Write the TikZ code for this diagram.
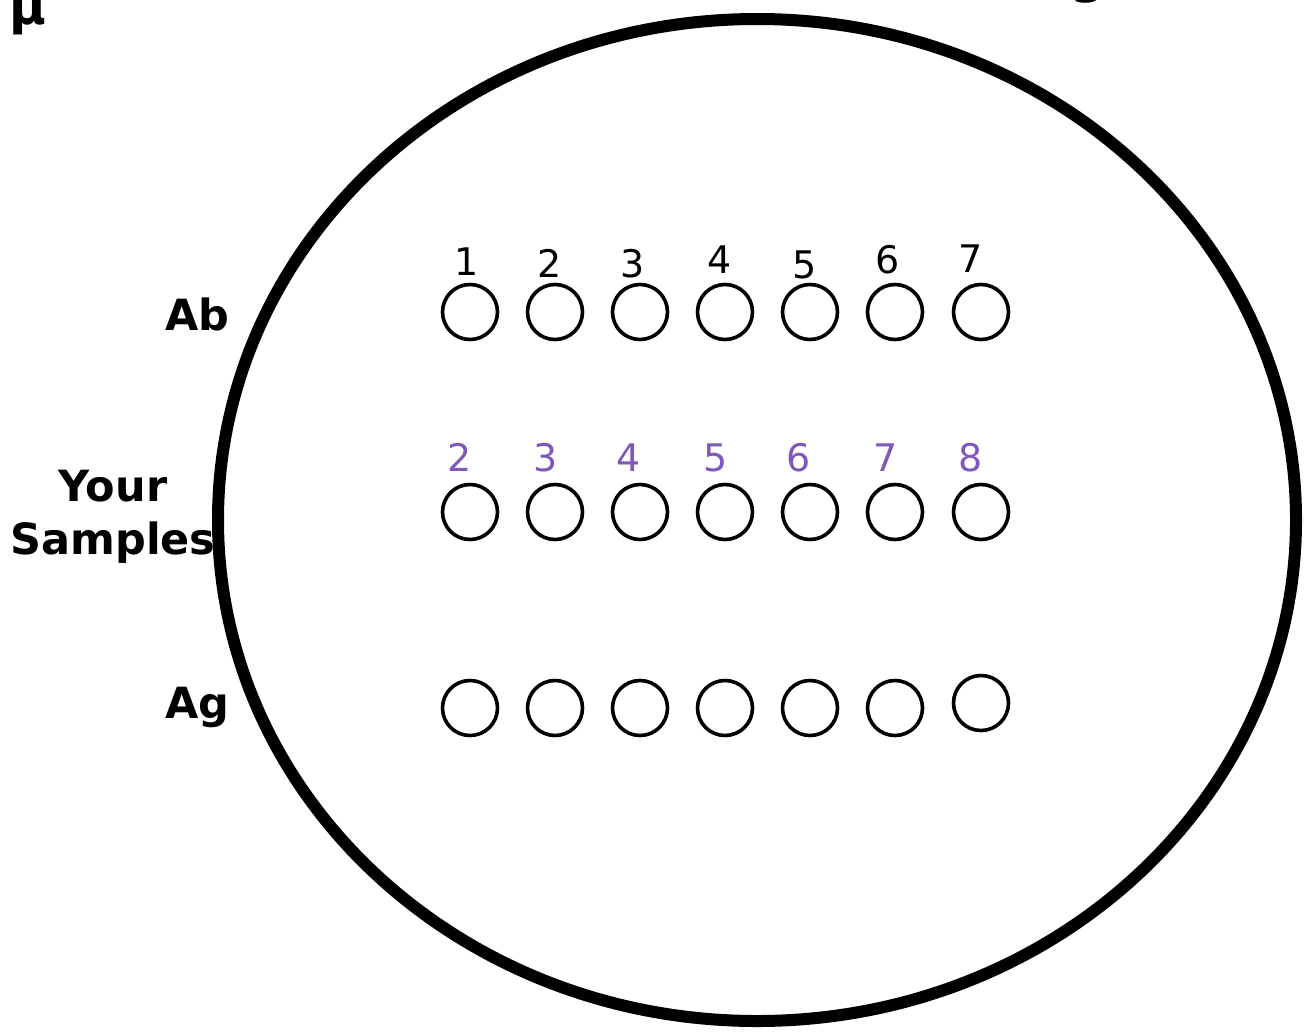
\documentclass[tikz,border=0pt]{standalone}
\usepackage{fontspec}
\setmainfont{DejaVu Sans}
\definecolor{samplepurple}{RGB}{128,88,186}
\tikzset{
  well/.style={circle, draw=black, line width=1.8pt, minimum size=27.5pt, inner sep=0pt},
  rowlabel/.style={font=\fontsize{21.5}{26.5}\selectfont\bfseries, inner sep=0pt},
  wellnum/.style={font=\fontsize{19}{21}\selectfont, anchor=base, inner sep=0pt},
}
\begin{document}
\begin{tikzpicture}[x=0.5pt,y=-0.5pt]
\useasboundingbox (0,0) rectangle (1309,1033);
% the plate
\coordinate (plate) at (757,520);
\draw[line width=6pt] (plate) ellipse (269.5pt and 250.5pt);
% cut-off heading letters
\node[font=\fontsize{25}{25}\selectfont\bfseries, anchor=base west, inner sep=0pt] (mu) at (9,25) {μ};
\node[font=\fontsize{25}{25}\selectfont\bfseries, anchor=base, inner sep=0pt] (gcut) at (1088,-7) {g};
% row labels
\node[rowlabel, anchor=base east] (ab) at (230,330) {Ab};
\node[rowlabel, align=center] (samples) at (113,517) {Your\\Samples};
\node[rowlabel, anchor=base east] (ag) at (230,718) {Ag};
% wells
\foreach \i/\x in {1/470,2/555,3/640,4/725,5/810,6/895,7/981}{
  \node[well] (ab\i) at (\x,312) {};
  \node[well] (smp\i) at (\x,512) {};
}
\foreach \i/\x in {1/470,2/555,3/640,4/725,5/810,6/895}
  \node[well] (ag\i) at (\x,708) {};
\node[well] (ag7) at (981,703) {};
% well numbers
\foreach \n/\x/\y in {1/467/275,2/550/277,3/633/277,4/720/273,5/805/278,6/888/273,7/971/272}
  \node[wellnum] (abnum\n) at (\x,\y) {\n};
\foreach \n/\x in {2/460,3/546,4/629,5/716,6/799,7/886,8/971}
  \node[wellnum, text=samplepurple] (smpnum\n) at (\x,471) {\n};
\end{tikzpicture}
\end{document}
